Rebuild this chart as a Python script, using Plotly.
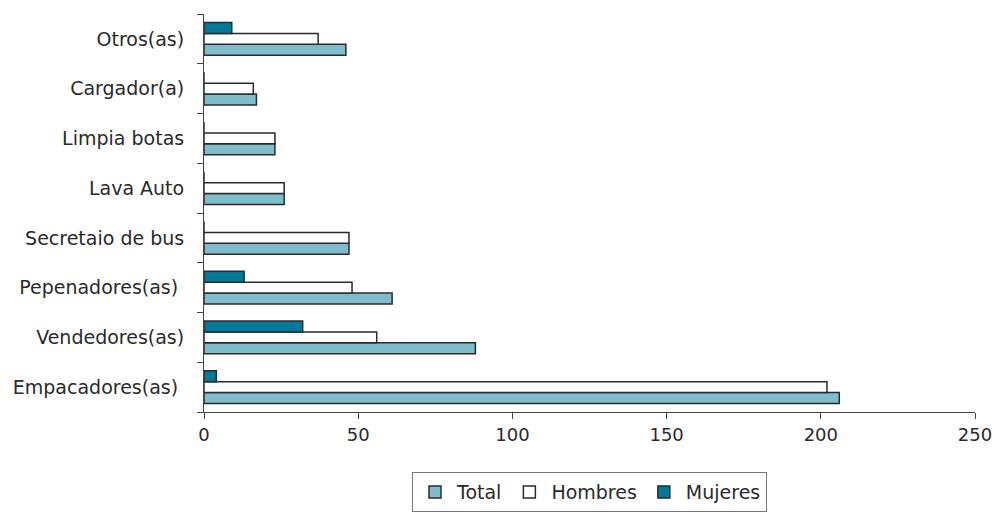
import plotly.graph_objects as go

categories = ["Empacadores(as) ", "Vendedores(as)", "Pepenadores(as) ", "Secretaio de bus",
              "Lava Auto", "Limpia botas", "Cargador(a)", "Otros(as)"]
total = [206, 88, 61, 47, 26, 23, 17, 46]
hombres = [202, 56, 48, 47, 26, 23, 16, 37]
mujeres = [4, 32, 13, 0, 0, 0, 0, 9]
x_ticks = [0, 50, 100, 150, 200, 250]

FONT = "DejaVu Sans"
line = dict(color="#2b2b2b", width=1.5)

fig = go.Figure()
fig.add_trace(go.Bar(y=categories, x=total, name="Total", orientation="h",
                     marker=dict(color="#80BDCC", line=line)))
fig.add_trace(go.Bar(y=categories, x=hombres, name="Hombres", orientation="h",
                     marker=dict(color="#FFFFFF", line=line)))
fig.add_trace(go.Bar(y=categories, x=mujeres, name="Mujeres", orientation="h",
                     marker=dict(color="#007A99", line=line)))

fig.update_layout(
    width=1000, height=512,
    barmode="group", bargap=0.34, bargroupgap=0,
    plot_bgcolor="white", paper_bgcolor="white",
    margin=dict(l=196, r=33, t=6, b=108),
    font=dict(family=FONT, size=19, color="#2a2a2a"),
    showlegend=True,
    legend=dict(orientation="h", x=0.5, xanchor="center", y=-0.151, yanchor="top",
                bordercolor="#777777", borderwidth=1, font=dict(size=19, family=FONT),
                traceorder="normal", itemwidth=34),
    xaxis=dict(range=[0, 250], tickvals=x_ticks, showgrid=False, zeroline=False,
               showline=True, linecolor="#444444", linewidth=1, automargin=False,
               ticks="outside", ticklen=6, tickcolor="#444444",
               tickfont=dict(size=18, family=FONT)),
    yaxis=dict(type="category", categoryorder="array", categoryarray=categories,
               range=[-0.5, 7.5], showgrid=False, zeroline=False, automargin=False,
               showline=True, linecolor="#444444", linewidth=1,
               ticks="outside", ticklen=6, tickcolor="#444444", tickson="boundaries",
               ticklabelstandoff=15,
               tickfont=dict(size=19, family=FONT)),
)

fig.write_html("out.html")
